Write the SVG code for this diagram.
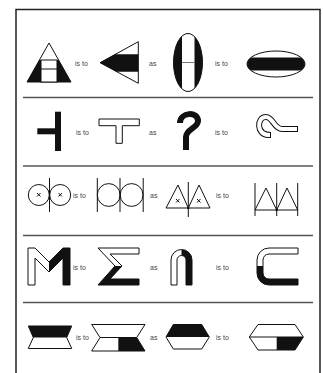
<svg xmlns="http://www.w3.org/2000/svg" width="323" height="373" viewBox="0 0 323 373">
<style>
.t{font-family:"Liberation Sans",Arial,sans-serif;font-size:7px;fill:#444}
.o{fill:#fff;stroke:#111;stroke-width:1}
.b{fill:#111}
.l{stroke:#111;stroke-width:1;fill:none}
.div{stroke:#555;stroke-width:1.5}
</style>
<defs>
<clipPath id="ce1"><ellipse cx="188" cy="62.5" rx="14.5" ry="29"/></clipPath>
<clipPath id="ce2"><ellipse cx="276" cy="64" rx="29" ry="13"/></clipPath>
</defs>
<g id="frame">
<path d="M16,373 V9.5 H320 V373" fill="none" stroke="#222" stroke-width="1.5"/>
<line class="div" x1="23" y1="97.5" x2="313" y2="97.5"/>
<line class="div" x1="23" y1="166" x2="313" y2="166"/>
<line class="div" x1="23" y1="235.5" x2="313" y2="235.5"/>
<line class="div" x1="23" y1="302.5" x2="313" y2="302.5"/>
</g>
<g id="labels">
<text class="t" x="75" y="66">is to</text>
<text class="t" x="149" y="66">as</text>
<text class="t" x="215" y="66">is to</text>
<text class="t" x="76" y="135">is to</text>
<text class="t" x="149" y="135">as</text>
<text class="t" x="215" y="135">is to</text>
<text class="t" x="73" y="198">is to</text>
<text class="t" x="150" y="198">as</text>
<text class="t" x="216" y="198">is to</text>
<text class="t" x="73" y="270">is to</text>
<text class="t" x="150" y="270">as</text>
<text class="t" x="216" y="270">is to</text>
<text class="t" x="76" y="340">is to</text>
<text class="t" x="150" y="340">as</text>
<text class="t" x="216" y="340">is to</text>
</g>
<g id="r1a">
<polygon class="o" points="49,43 27,82 71,82"/>
<polygon class="b" points="39.4,60 58.6,60 71,82 27,82"/>
<rect class="o" x="41" y="60" width="16" height="22"/>
<line class="l" x1="41" y1="69" x2="57" y2="69"/>
</g>
<g id="r1b">
<polygon class="o" points="100,62.7 138.3,41.7 138.3,83.3"/>
<polygon class="b" points="100,62.7 115,54.3 138.3,54.3 138.3,71.7 116.6,71.7"/>
</g>
<g id="r1c">
<ellipse cx="188" cy="62.5" rx="14.5" ry="29" class="b"/>
<rect x="182" y="30" width="12.5" height="65" fill="#fff" clip-path="url(#ce1)"/>
<line x1="182" y1="62.5" x2="194.5" y2="62.5" stroke="#777" stroke-width="1"/>
<ellipse cx="188" cy="62.5" rx="14.5" ry="29" class="l"/>
</g>
<g id="r1d">
<ellipse cx="276" cy="64" rx="29" ry="13" class="o"/>
<rect x="240" y="57.5" width="80" height="13" class="b" clip-path="url(#ce2)"/>
</g>
<g id="r2a">
<rect x="55" y="111.7" width="6" height="39.3" class="b"/>
<rect x="37.3" y="128.3" width="18" height="6" class="b"/>
</g>
<g id="r2b">
<polygon class="o" points="99,119 139.3,119 139.3,125.7 122.3,125.7 122.3,143.3 116,143.3 116,125.7 99,125.7"/>
</g>
<g id="r2c">
<path d="M180,123 C180,112 198,111 198,121 C198,128 186,129 186,137 V150" fill="none" stroke="#111" stroke-width="6"/>
</g>
<g id="r2d" transform="translate(276,126) rotate(-90) translate(-189,-131)">
<path d="M180,123 C180,112 198,111 198,121 C198,128 186,129 186,137 V150" fill="none" stroke="#111" stroke-width="6" stroke-linecap="square"/>
<path d="M180,123 C180,112 198,111 198,121 C198,128 186,129 186,137 V150" fill="none" stroke="#fff" stroke-width="4" stroke-linecap="square"/>
</g>
<g id="r3a">
<circle cx="38.8" cy="195" r="10.5" class="l"/>
<circle cx="60.2" cy="195" r="10.5" class="l"/>
<line x1="49.5" y1="178" x2="49.5" y2="212" class="l"/>
<path d="M37,193 l3.5,3.5 M40.5,193 l-3.5,3.5 M58.5,193 l3.5,3.5 M62,193 l-3.5,3.5" class="l"/>
</g>
<g id="r3b">
<circle cx="108.7" cy="195" r="11.4" class="l"/>
<circle cx="131.6" cy="195" r="11.4" class="l"/>
<path d="M97.3,178 V212 M120,178 V212 M143.2,178 V212" class="l"/>
</g>
<g id="r3c">
<polygon class="l" points="178,185 166,208 188.3,208"/>
<polygon class="l" points="199,185 188.3,208 210,208"/>
<line x1="188.3" y1="182" x2="188.3" y2="217" class="l"/>
<circle cx="188.3" cy="208" r="1.2" class="b"/>
<path d="M176,199 l3.5,3.5 M179.5,199 l-3.5,3.5 M197,199 l3.5,3.5 M200.5,199 l-3.5,3.5" class="l"/>
</g>
<g id="r3d">
<path d="M255,183 V216 M276.7,183 V216 M297.7,183 V216 M255,210 H297.7 M255,210 L266,188 L276.7,210 L287,188 L297.7,210" class="l"/>
<circle cx="276.7" cy="210" r="1.2" class="b"/>
</g>
<g id="r4a">
<polygon class="o" points="28,285 28,248 35,248 49,262 63,248 70,248 70,285 63,285 63,258 49,272 35,258 35,285"/>
<polygon class="b" points="49,262 63,248 70,248 70,285 63,285 63,258 49,272"/>
</g>
<g id="r4b">
<polygon class="o" points="98,248 139,248 139,254 110,254 122,266 110,279 139,279 139,285 98,285 115,266"/>
<polygon class="b" points="115,266 122,266 110,279 139,279 139,285 98,285"/>
</g>
<g id="r4c">
<path d="M171,285 V260 A10.5,10.5 0 0 1 192,260 V285 H186 V260 A4.5,4.5 0 0 0 177,260 V285 Z" class="o"/>
<path d="M181.5,249.5 A10.5,10.5 0 0 1 192,260 V285 H186 V260 A4.5,4.5 0 0 0 181.5,255.5 Z" class="b"/>
</g>
<g id="r4d">
<path d="M298,248 H269 A12,12 0 0 0 257,260 V273 A12,12 0 0 0 269,285 H298 V279 H269 A6,6 0 0 1 263,273 V260 A6,6 0 0 1 269,254 H298 Z" class="o"/>
<path d="M257,266 V273 A12,12 0 0 0 269,285 H298 V279 H269 A6,6 0 0 1 263,273 V266 Z" class="b"/>
</g>
<g id="r5a">
<polygon class="o" points="28.3,326 71.7,326 66.7,337.5 71.7,348.5 28.3,348.5 33.3,337.5"/>
<polygon class="b" points="28.3,326 71.7,326 66.7,337.5 33.3,337.5"/>
</g>
<g id="r5b">
<polygon class="o" points="91.7,324.5 145,324.5 136.7,337.5 145,351 91.7,351 100,337.5"/>
<line x1="100" y1="337.5" x2="136.7" y2="337.5" class="l"/>
<polygon class="b" points="118.3,337.5 136.7,337.5 145,351 118.3,351"/>
</g>
<g id="r5c">
<polygon class="o" points="173.3,324.5 201.7,324.5 209.3,337 201.7,349 173.3,349 166,337"/>
<polygon class="b" points="173.3,324.5 201.7,324.5 209.3,337 166,337"/>
</g>
<g id="r5d">
<polygon class="o" points="258,324.5 295,324.5 303.3,337 295,350 258,350 249.3,337"/>
<line x1="249.3" y1="337" x2="303.3" y2="337" class="l"/>
<polygon class="b" points="276.7,337 303.3,337 295,350 276.7,350"/>
</g>
</svg>
